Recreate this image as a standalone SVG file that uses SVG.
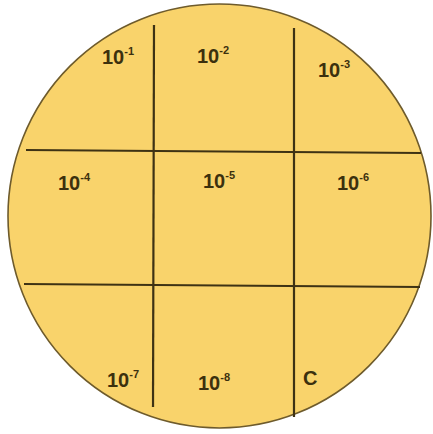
<svg xmlns="http://www.w3.org/2000/svg" width="433" height="434" viewBox="0 0 433 434">
<style>
.plate{fill:#F9D36B;stroke:#6E5B2C;stroke-width:1.6}
.grid line{stroke:#3E3214;stroke-width:2.2;stroke-linecap:butt}
.lbl{font-family:"Liberation Sans",Arial,sans-serif;font-weight:bold;font-size:20px;fill:#3C300E}
.sup{font-size:11px}
</style>
<rect width="433" height="434" fill="#ffffff"/>
<ellipse id="plate" class="plate" cx="219.5" cy="216" rx="211.5" ry="212"/>
<g id="grid" class="grid">
<line x1="154" y1="25" x2="153" y2="407"/>
<line x1="294" y1="28" x2="294" y2="417"/>
<line x1="26" y1="150" x2="421" y2="153"/>
<line x1="24" y1="284" x2="420" y2="287"/>
</g>
<g id="cell1"><text class="lbl" x="102" y="64">10<tspan class="sup" dy="-9">-1</tspan></text></g>
<g id="cell2"><text class="lbl" x="197" y="63">10<tspan class="sup" dy="-9">-2</tspan></text></g>
<g id="cell3"><text class="lbl" x="318" y="77">10<tspan class="sup" dy="-9">-3</tspan></text></g>
<g id="cell4"><text class="lbl" x="58" y="190">10<tspan class="sup" dy="-9">-4</tspan></text></g>
<g id="cell5"><text class="lbl" x="203" y="188">10<tspan class="sup" dy="-9">-5</tspan></text></g>
<g id="cell6"><text class="lbl" x="337" y="190">10<tspan class="sup" dy="-9">-6</tspan></text></g>
<g id="cell7"><text class="lbl" x="107" y="387">10<tspan class="sup" dy="-9">-7</tspan></text></g>
<g id="cell8"><text class="lbl" x="198" y="390">10<tspan class="sup" dy="-9">-8</tspan></text></g>
<g id="cell9"><text class="lbl" x="303" y="385">C</text></g>
</svg>
